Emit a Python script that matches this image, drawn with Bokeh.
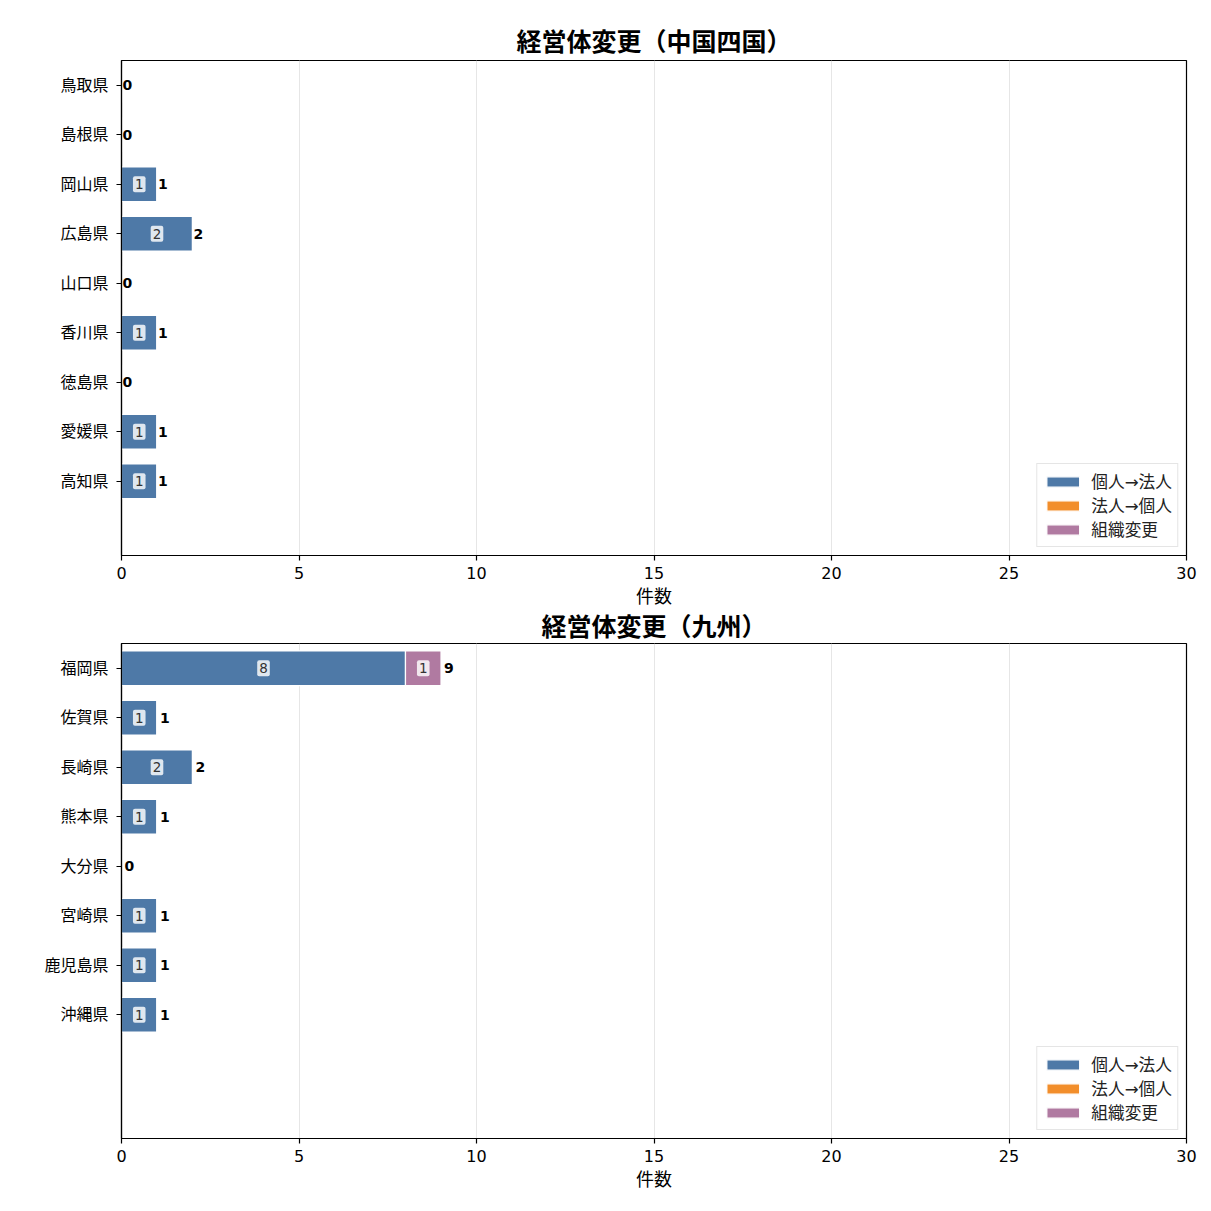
from bokeh.plotting import figure
from bokeh.models import ColumnDataSource, Range1d, FixedTicker
from bokeh.layouts import column
from bokeh.core.properties import value
from bokeh.embed import file_html
from bokeh.resources import INLINE

# ---- data ----
series_names = ["個人→法人", "法人→個人", "組織変更"]
series_colors = ["#4e79a7", "#f28e2b", "#b07aa1"]
x_ticks = [0, 5, 10, 15, 20, 25, 30]

title_top = "経営体変更（中国四国）"
pref_top = ["鳥取県", "島根県", "岡山県", "広島県", "山口県", "香川県", "徳島県", "愛媛県", "高知県"]
top_kojin_hojin = [0, 0, 1, 2, 0, 1, 0, 1, 1]
top_hojin_kojin = [0, 0, 0, 0, 0, 0, 0, 0, 0]
top_soshiki = [0, 0, 0, 0, 0, 0, 0, 0, 0]

title_bot = "経営体変更（九州）"
pref_bot = ["福岡県", "佐賀県", "長崎県", "熊本県", "大分県", "宮崎県", "鹿児島県", "沖縄県"]
bot_kojin_hojin = [8, 1, 2, 1, 0, 1, 1, 1]
bot_hojin_kojin = [0, 0, 0, 0, 0, 0, 0, 0]
bot_soshiki = [1, 0, 0, 0, 0, 0, 0, 0]

FONT = "DejaVu Sans, Noto Sans CJK JP"


def make_panel(title, prefs, vals, border_top, title_standoff, label_xoff):
    n = len(prefs)
    p = figure(frame_width=1065, frame_height=495,
               x_range=Range1d(0, 30), y_range=Range1d(9.5, -0.5),
               output_backend="svg", toolbar_location=None,
               min_border_left=121, min_border_right=17,
               min_border_top=border_top, min_border_bottom=40,
               title=title)
    p.title.align = "center"
    p.title.text_font = FONT
    p.title.text_font_size = "25px"
    p.title.text_font_style = "bold"
    p.title.text_color = "black"
    p.title.standoff = title_standoff

    keys = ["s0", "s1", "s2"]
    data = {"y": list(range(n))}
    for k, v in zip(keys, vals):
        data[k] = v
    src = ColumnDataSource(data)
    p.hbar_stack(keys, y="y", height=0.7, color=series_colors,
                 line_color="white", line_width=1.2, source=src,
                 legend_label=series_names)

    # segment labels
    mx, my, mt = [], [], []
    tot = [0] * n
    for v in vals:
        for i in range(n):
            if v[i] > 0:
                mx.append(tot[i] + v[i] / 2)
                my.append(i)
                mt.append(str(v[i]))
            tot[i] += v[i]
    p.text(x=mx, y=my, text=mt, text_align="center", text_baseline="middle",
           text_font=value(FONT), text_font_size="13.5px", text_color="#333333",
           background_fill_color="white", background_fill_alpha=0.82,
           padding=(2, 3), border_radius=2)

    # totals
    p.text(x=tot, y=list(range(n)), text=[str(t) for t in tot],
           text_align="left", text_baseline="middle", x_offset=label_xoff,
           text_font=value(FONT), text_font_size="14px", text_font_style="bold",
           text_color="black")

    p.xaxis.ticker = FixedTicker(ticks=x_ticks)
    p.xaxis.minor_tick_line_color = None
    p.xaxis.axis_label = "件数"
    p.xaxis.axis_label_text_font = FONT
    p.xaxis.axis_label_text_font_size = "18px"
    p.xaxis.axis_label_text_font_style = "normal"
    p.xaxis.axis_label_text_color = "black"
    p.xaxis.axis_label_standoff = 4
    p.xaxis.major_label_standoff = 6
    p.xaxis.major_tick_out = 5
    p.xaxis.major_tick_in = 0

    p.yaxis.ticker = FixedTicker(ticks=list(range(n)))
    p.yaxis.major_label_overrides = {i: prefs[i] for i in range(n)}
    p.yaxis.minor_tick_line_color = None
    p.yaxis.major_tick_out = 5
    p.yaxis.major_tick_in = 0
    p.yaxis.major_label_standoff = 8

    for ax in (p.xaxis, p.yaxis):
        ax.major_label_text_font = FONT
        ax.major_label_text_font_size = "16px"
        ax.major_label_text_color = "black"
        ax.axis_line_color = "black"
        ax.axis_line_width = 1.2
        ax.major_tick_line_color = "black"
        ax.major_tick_line_width = 1.2

    p.outline_line_color = "black"
    p.outline_line_width = 1.2
    p.outline_line_alpha = 1
    p.xgrid.grid_line_color = "#e6e6e6"
    p.xgrid.grid_line_width = 1
    p.ygrid.grid_line_color = None

    lg = p.legend[0]
    lg.location = "bottom_right"
    lg.margin = 8
    lg.padding = 5
    lg.spacing = 0
    lg.border_line_color = "#cccccc"
    lg.border_line_width = 1
    lg.background_fill_alpha = 0.9
    lg.label_text_font = FONT
    lg.label_text_font_size = "16.7px"
    lg.label_text_color = "#222222"
    lg.glyph_width = 41
    lg.glyph_height = 13
    lg.label_height = 20
    lg.label_standoff = 8
    return p


p1 = make_panel(title_top, pref_top, [top_kojin_hojin, top_hojin_kojin, top_soshiki], 60, 8, 1)
p2 = make_panel(title_bot, pref_bot, [bot_kojin_hojin, bot_hojin_kojin, bot_soshiki], 30, 3, 3)

layout = column(p1, p2, spacing=0)
open("out.html", "w").write(file_html(layout, INLINE))
